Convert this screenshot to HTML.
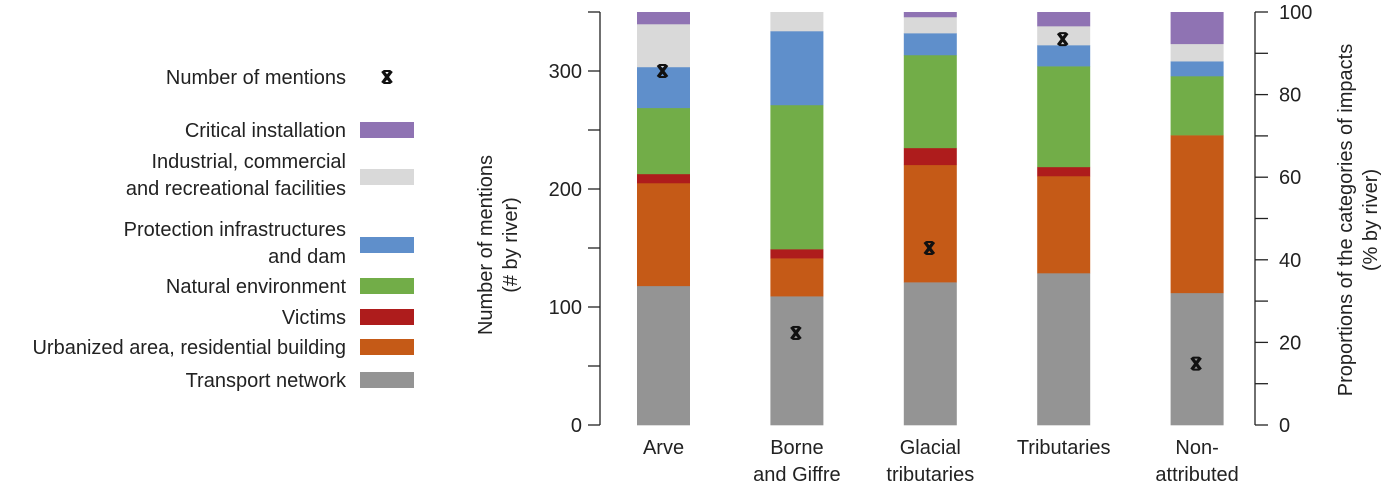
<!DOCTYPE html>
<html><head><meta charset="utf-8"><style>
body{margin:0;background:#fff;}
svg{display:block;font-family:"Liberation Sans",sans-serif;}
</style></head><body>
<svg id="c" width="1387" height="488" viewBox="0 0 1387 488"></svg>
<script>
const categories=["Arve","Borne|and Giffre","Glacial|tributaries","Tributaries","Non-|attributed"];
const transport=[33.7,31.2,34.6,36.8,32.0];
const urbanized=[24.9,9.2,28.4,23.5,38.2];
const victims=[2.2,2.2,4.1,2.2,0];
const natural=[16.0,34.9,22.5,24.4,14.3];
const protection=[9.9,17.9,5.3,5.1,3.6];
const industrial=[10.4,4.6,3.9,4.6,4.2];
const critical=[2.9,0,1.2,3.4,7.7];
const mentions=[300,78,150,327,52];
const leftTicks=[0,100,200,300];
const rightTicks=[0,20,40,60,80,100];
const seriesNames=["transport","urbanized","victims","natural","protection","industrial","critical"];
const seriesLabels=["Transport network","Urbanized area, residential building","Victims","Natural environment","Protection infrastructures|and dam","Industrial, commercial|and recreational facilities","Critical installation"];
const seriesData=[transport,urbanized,victims,natural,protection,industrial,critical];
const colors=["#949494","#c55a17","#ae1c1c","#72ad48","#5f8fcb","#d9d9d9","#8f73b3"];

const NS="http://www.w3.org/2000/svg";
const svg=document.getElementById('c');
const top0=12,bot=425;
const yPct=v=>bot-v/100*(bot-top0);
const yCnt=v=>bot-v/350*(bot-top0);
const xBand=i=>637+i*133.4;
const bw=53;
function mk(tag,attrs,parent){const e=document.createElementNS(NS,tag);for(const k in attrs)e.setAttribute(k,attrs[k]);(parent||svg).appendChild(e);return e;}

categories.forEach((c,i)=>{
  const g=mk('g',{});
  
  
  let cum=0;
  seriesData.forEach((s,k)=>{
    const v=s[i];
    if(v>0){
      const r=mk('rect',{x:xBand(i),y:yPct(cum+v),width:bw,height:yPct(cum)-yPct(cum+v)+0.3,fill:colors[k]},g);
      
      
    }
    cum+=v;
  });
  const lines=c.split('|');
  lines.forEach((ln,j)=>{
    const t=mk('text',{x:xBand(i)+bw/2,y:454+j*27,'text-anchor':'middle','font-size':20,fill:'#222'});
    t.textContent=ln;
    
    
  });
});
function cross(x,y,parent,name){
  const g=mk('g',{stroke:'#111','stroke-width':3.2},parent);
  
  
  mk('line',{x1:x-4.5,y1:y-6,x2:x+4.5,y2:y+6},g);
  mk('line',{x1:x+4.5,y1:y-6,x2:x-4.5,y2:y+6},g);
  mk('line',{x1:x-3,y1:y-6,x2:x+3,y2:y-6,'stroke-width':2},g);
  mk('line',{x1:x-3,y1:y+6,x2:x+3,y2:y+6,'stroke-width':2},g);
}
mentions.forEach((m,i)=>cross(xBand(i)+bw/2-1,yCnt(m),svg,'mention-marker-'+i));

const la=mk('g',{stroke:'#222','stroke-width':1.3});


mk('line',{x1:600,y1:top0,x2:600,y2:bot},la);
for(let v=0;v<=350;v+=50)mk('line',{x1:588,y1:yCnt(v),x2:600,y2:yCnt(v)},la);
leftTicks.forEach(v=>{
  const t=mk('text',{x:582,y:yCnt(v)+7,'text-anchor':'end','font-size':20,fill:'#222'});
  t.textContent=v;
  
  
});
const ra=mk('g',{stroke:'#222','stroke-width':1.3});


mk('line',{x1:1255,y1:top0,x2:1255,y2:bot},ra);
for(let v=0;v<=100;v+=10)mk('line',{x1:1255,y1:yPct(v),x2:1268,y2:yPct(v)},ra);
rightTicks.forEach(v=>{
  const t=mk('text',{x:1279,y:yPct(v)+7,'text-anchor':'start','font-size':20,fill:'#222'});
  t.textContent=v;
  
  
});
function rotText(x,y,txt,name){
  const t=mk('text',{x:x,y:y,'text-anchor':'middle','font-size':20,fill:'#222',transform:'rotate(-90 '+x+' '+y+')'});
  t.textContent=txt;
  
  
}
rotText(492,245,'Number  of mentions','left-axis-title');
rotText(517,245,'(# by river)','left-axis-subtitle');
rotText(1352,220,'Proportions of the categories of impacts','right-axis-title');
rotText(1377,220,'(%  by river)','right-axis-subtitle');

const lg=mk('g',{});


const t0=mk('text',{x:346,y:84,'text-anchor':'end','font-size':20,fill:'#222'},lg);
t0.textContent='Number of mentions';


cross(387,77,lg,'legend-marker-mentions');
const rowY=[380,347,317,286,245,177,130];
seriesLabels.forEach((lab,k)=>{
  const r=mk('rect',{x:360,y:rowY[k]-8,width:54,height:16,fill:colors[k]},lg);
  
  
  const lines=lab.split('|');
  lines.forEach((ln,j)=>{
    const yy=lines.length===1?rowY[k]+7:rowY[k]-9+j*27;
    const t=mk('text',{x:346,y:yy,'text-anchor':'end','font-size':20,fill:'#222'},lg);
    t.textContent=ln;
    
    
  });
});
</script>
</body></html>
